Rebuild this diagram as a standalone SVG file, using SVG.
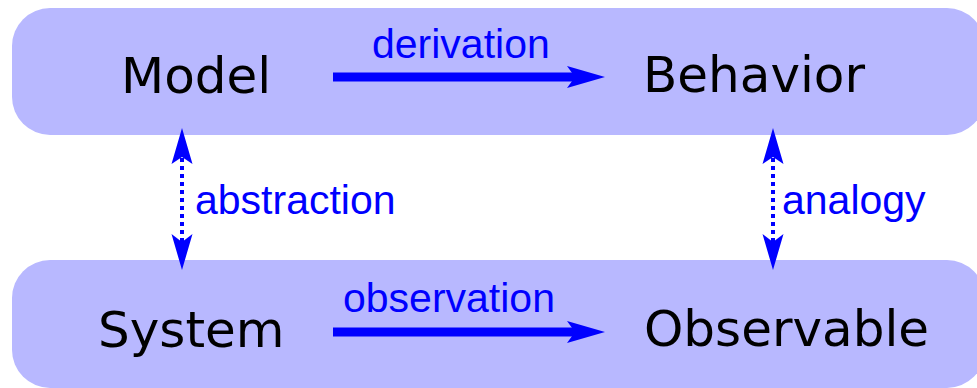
<svg xmlns="http://www.w3.org/2000/svg" width="977" height="388" viewBox="0 0 977 388">
<style>
.band{fill:#b8b8ff}
.node{font-family:"DejaVu Sans",sans-serif;font-size:50px;fill:#000}
.lbl{font-family:"Liberation Sans",Arial,sans-serif;font-size:41px;fill:#0000ff}
.shaft{stroke:#0000ff;stroke-width:9;fill:none}
.dot{stroke:#0000ff;stroke-width:4;stroke-dasharray:4 4;fill:none}
.head{fill:#0000ff}
</style>
<rect class="band" x="12" y="8" width="973" height="127" rx="38"/>
<rect class="band" x="12" y="260" width="973" height="128" rx="38"/>
<g id="model"><text class="node" x="121" y="93">Model</text></g>
<g id="behavior"><text class="node" x="643" y="92">Behavior</text></g>
<g id="system"><text class="node" x="98" y="347">System</text></g>
<g id="observable"><text class="node" x="644" y="346">Observable</text></g>
<g id="connectors">
<line class="shaft" x1="333" y1="77" x2="578" y2="77"/>
<path class="head" d="M605,77 L567,66 L575,77 L567,88 Z"/>
<text class="lbl" x="372" y="58">derivation</text>
<line class="shaft" x1="333" y1="332" x2="578" y2="332"/>
<path class="head" d="M605,332 L567,321 L575,332 L567,343 Z"/>
<text class="lbl" x="343" y="312">observation</text>
<line class="dot" x1="182" y1="158" x2="182" y2="243"/>
<path class="head" d="M182,128 L171.5,164 L182,157 L192.5,164 Z"/>
<path class="head" d="M182,270 L171.5,234 L182,242 L192.5,234 Z"/>
<text class="lbl" x="195" y="214">abstraction</text>
<line class="dot" x1="773" y1="158" x2="773" y2="243"/>
<path class="head" d="M773,128 L762.5,164 L773,157 L783.5,164 Z"/>
<path class="head" d="M773,270 L762.5,234 L773,242 L783.5,234 Z"/>
<text class="lbl" x="782" y="214">analogy</text>
</g>
</svg>
